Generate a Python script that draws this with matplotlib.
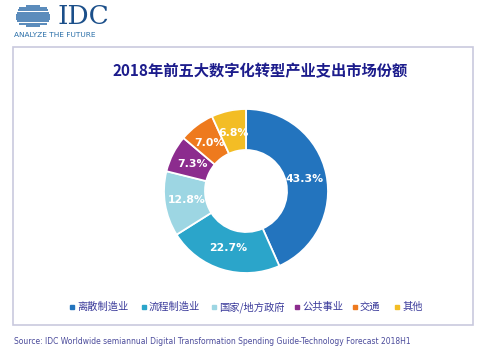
import numpy as np
import matplotlib
matplotlib.use("Agg")
import matplotlib.pyplot as plt
import matplotlib.patches as patches

plt.rcParams["font.family"] = ["Noto Sans CJK SC", "DejaVu Sans"]

# data
categories = ["离散制造业", "流程制造业", "国家/地方政府", "公共事业", "交通", "其他"]
shares = [43.3, 22.7, 12.8, 7.3, 7.0, 6.8]
colors = ["#2374BE", "#2BA5CA", "#9DD6E3", "#8C2C8E", "#EE7A1E", "#F3BD25"]
title = "2018年前五大数字化转型产业支出市场份额"
source = ("Source: IDC Worldwide semiannual Digital Transformation "
          "Spending Guide-Technology Forecast 2018H1")

W, H = 486, 354
fig = plt.figure(figsize=(W / 100, H / 100), dpi=100)

# background axes in pixel coordinates
bg = fig.add_axes([0, 0, 1, 1])
bg.set_xlim(0, W)
bg.set_ylim(H, 0)
bg.axis("off")

# frame box
bg.add_patch(patches.Rectangle((13, 47), 460, 278, fill=False,
                               edgecolor="#C9C9DE", linewidth=1.2))

# IDC logo: striped globe
gx, gy, gr = 33, 16, 11
for yy in np.arange(gy - gr + 1, gy + gr, 2.2):
    half = np.sqrt(max(gr ** 2 - (yy - gy) ** 2, 0))
    ext = 6 if abs(yy - gy) < gr * 0.75 else 2
    bg.plot([gx - half - ext, gx + half + ext], [yy, yy], color="#2A6AA8",
            linewidth=1.1, solid_capstyle="butt")
bg.text(57, 16, "IDC", fontsize=19, family="DejaVu Serif", color="#1B4F8A",
        va="center", ha="left")
bg.text(14, 35, "ANALYZE THE FUTURE", fontsize=5.3, family="DejaVu Sans",
        color="#2A6FA8", va="center", ha="left")

# title
bg.text(260, 71, title, fontsize=11, fontweight="bold", color="#1C1C8C",
        ha="center", va="center")

# donut
cx, cy, r = 246, 191, 82
ax = fig.add_axes([(cx - r) / W, 1 - (cy + r) / H, 2 * r / W, 2 * r / H])
wedges, texts, autotexts = ax.pie(
    shares, colors=colors, startangle=90, counterclock=False,
    autopct=lambda p: "", pctdistance=0.73,
    wedgeprops=dict(width=0.5, edgecolor="white", linewidth=1.3),
)
for at, v in zip(autotexts, shares):
    at.set_text(f"{v:.1f}%")
    at.set_color("white")
    at.set_fontsize(7.8)
    at.set_fontweight("bold")
    at.set_family("DejaVu Sans")
ax.set_xlim(-1, 1)
ax.set_ylim(-1, 1)
ax.set_aspect("equal")

# legend
leg_x = [70, 142, 212, 295, 353, 395]
for x, lab, c in zip(leg_x, categories, colors):
    bg.add_patch(patches.Rectangle((x, 305), 4, 4, color=c))
    bg.text(x + 7, 307, lab, fontsize=7.4, color="#3A3A9A", ha="left",
            va="center")

# source
bg.text(14, 341, source, fontsize=5.5, color="#4B4B9B", ha="left", va="center",
        family="DejaVu Sans")

fig.savefig("out.png", dpi=100)
